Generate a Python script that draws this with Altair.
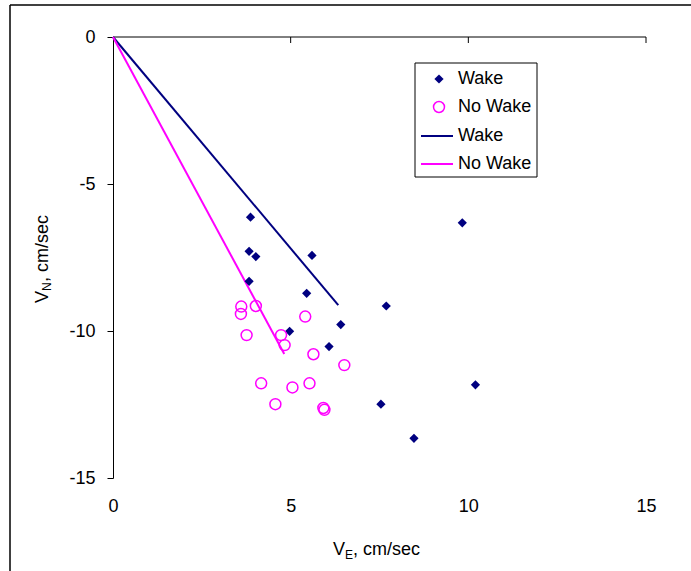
import altair as alt
import pandas as pd

# ---- data ----
wake_ve = [3.87, 3.83, 4.02, 5.60, 3.83, 5.45, 7.69, 6.41, 4.97, 6.08, 7.54, 8.47, 9.83, 10.20]
wake_vn = [-6.13, -7.29, -7.47, -7.43, -8.31, -8.72, -9.15, -9.78, -10.01, -10.53, -12.49, -13.65, -6.32, -11.83]
nowake_ve = [3.61, 3.60, 4.02, 5.41, 3.76, 4.73, 4.83, 5.64, 6.51, 4.17, 5.05, 5.53, 4.57, 5.92, 5.95]
nowake_vn = [-9.17, -9.42, -9.15, -9.51, -10.14, -10.14, -10.48, -10.79, -11.16, -11.78, -11.92, -11.78, -12.49, -12.62, -12.68]
wake_line_ve = [0, 6.34]
wake_line_vn = [0, -9.12]
nowake_line_ve = [0, 4.82]
nowake_line_vn = [0, -10.78]
x_ticks = [0, 5, 10, 15]
y_ticks = [0, -5, -10, -15]
legend_labels = ["Wake", "No Wake", "Wake", "No Wake"]

NAVY = "#000080"
MAG = "#FF00FF"
FONT = "Liberation Sans"
FS = 18

wake_df = pd.DataFrame({"ve": wake_ve, "vn": wake_vn})
nowake_df = pd.DataFrame({"ve": nowake_ve, "vn": nowake_vn})
wline_df = pd.DataFrame({"ve": wake_line_ve, "vn": wake_line_vn})
nline_df = pd.DataFrame({"ve": nowake_line_ve, "vn": nowake_line_vn})
top_df = pd.DataFrame({"ve": [x_ticks[0], x_ticks[-1]], "vn": [0, 0]})
tick_df = pd.DataFrame({"ve": x_ticks[1:]})
one = pd.DataFrame({"k": [0]})

xs = alt.Scale(domain=[0, 15], nice=False, zero=False)
ys = alt.Scale(domain=[-15, 0], nice=False, zero=False)

x_axis = alt.Axis(values=x_ticks, domain=False, ticks=False, tickSize=0, grid=False,
                  labelFontSize=FS, labelFont=FONT, labelColor="black",
                  labelPadding=19, labelFlush=False, labelExpr="'' + datum.value",
                  title=None)
y_axis = alt.Axis(values=y_ticks, domain=True, domainColor="black", domainWidth=1,
                  ticks=True, tickSize=6, tickColor="black", grid=False,
                  labelFontSize=FS, labelFont=FONT, labelColor="black",
                  labelPadding=12, labelFlush=False, labelExpr="'' + datum.value",
                  title=None)

X = alt.X("ve:Q", scale=xs, axis=x_axis)
Y = alt.Y("vn:Q", scale=ys, axis=y_axis)

top_line = alt.Chart(top_df).mark_line(color="black", strokeWidth=1).encode(x=X, y=Y)
top_ticks = alt.Chart(tick_df).mark_rule(color="black", strokeWidth=1).encode(
    x=X, y=alt.value(0), y2=alt.value(6))

wline = alt.Chart(wline_df).mark_line(color=NAVY, strokeWidth=2).encode(x=X, y=Y)
nline = alt.Chart(nline_df).mark_line(color=MAG, strokeWidth=2).encode(x=X, y=Y)

wake_pts = alt.Chart(wake_df).mark_point(shape="diamond", filled=True, size=85,
                                         color=NAVY, opacity=1).encode(x=X, y=Y)
nowake_pts = alt.Chart(nowake_df).mark_point(shape="circle", filled=False, size=120,
                                             color=MAG, strokeWidth=1.5, opacity=1).encode(x=X, y=Y)

# ---- outer frame ----
frame_top = alt.Chart(one).mark_rule(color="black", strokeWidth=1.5).encode(
    x=alt.value(-103), x2=alt.value(700), y=alt.value(-32))
frame_left = alt.Chart(one).mark_rule(color="black", strokeWidth=1.5).encode(
    x=alt.value(-103), y=alt.value(-32), y2=alt.value(700))

# ---- legend ----
leg_box = alt.Chart(one).mark_rect(fill="white", stroke="black", strokeWidth=1).encode(
    x=alt.value(302), x2=alt.value(424), y=alt.value(26), y2=alt.value(140))
leg_d = alt.Chart(one).mark_point(shape="diamond", filled=True, size=85, color=NAVY, opacity=1).encode(
    x=alt.value(326), y=alt.value(42))
leg_c = alt.Chart(one).mark_point(shape="circle", filled=False, size=120, color=MAG,
                                  strokeWidth=1.5, opacity=1).encode(x=alt.value(326), y=alt.value(70))
leg_l1 = alt.Chart(one).mark_rule(color=NAVY, strokeWidth=2).encode(
    x=alt.value(308), x2=alt.value(340), y=alt.value(99))
leg_l2 = alt.Chart(one).mark_rule(color=MAG, strokeWidth=2).encode(
    x=alt.value(308), x2=alt.value(340), y=alt.value(127))
leg_rows = [42, 70, 99, 127]
leg_texts = [
    alt.Chart(one).mark_text(text=lab, align="left", baseline="middle", font=FONT,
                             fontSize=FS, color="black").encode(x=alt.value(345), y=alt.value(yy))
    for lab, yy in zip(legend_labels, leg_rows)
]

# ---- axis titles with subscripts ----
def txt(s, fs, **kw):
    return alt.Chart(one).mark_text(text=s, font=FONT, fontSize=fs, color="black",
                                    align="left", baseline="alphabetic", **kw)

xt_v = txt("V", FS).encode(x=alt.value(220), y=alt.value(518))
xt_s = txt("E", 12).encode(x=alt.value(232), y=alt.value(522))
xt_r = txt(", cm/sec", FS).encode(x=alt.value(240), y=alt.value(518))

yt_v = txt("V", FS, angle=270).encode(x=alt.value(-65), y=alt.value(266))
yt_s = txt("N", 12, angle=270, dy=3).encode(x=alt.value(-65), y=alt.value(254))
yt_r = txt(", cm/sec", FS, angle=270).encode(x=alt.value(-65), y=alt.value(245))

chart = alt.layer(
    frame_top, frame_left, top_line, top_ticks, wline, nline, wake_pts, nowake_pts,
    leg_box, leg_d, leg_c, leg_l1, leg_l2, *leg_texts,
    xt_v, xt_s, xt_r, yt_v, yt_s, yt_r
).properties(
    width=533, height=441,
    autosize=alt.AutoSizeParams(type="none"),
    padding={"left": 113, "top": 37, "right": 45, "bottom": 93},
    background="white",
).configure_view(stroke=None)

chart.save("out.html", embed_options={"renderer": "svg", "actions": False})
